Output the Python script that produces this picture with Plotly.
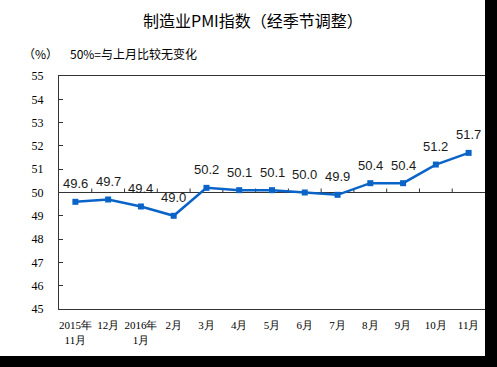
import plotly.graph_objects as go

categories = ["2015年<br>11月", "12月", "2016年<br>1月", "2月", "3月", "4月", "5月",
              "6月", "7月", "8月", "9月", "10月", "11月"]
pmi_values = [49.6, 49.7, 49.4, 49.0, 50.2, 50.1, 50.1, 50.0, 49.9, 50.4, 50.4, 51.2, 51.7]
y_ticks = [45, 46, 47, 48, 49, 50, 51, 52, 53, 54, 55]
baseline = 50

W, H = 497, 367
L, R, T, B = 59, 12, 76, 58
blue = "#0a64c8"
axis_col = "#333333"
idx = list(range(len(categories)))

plot_w = W - L - R
plot_h = H - T - B


def px_x(x):
    return (x - L) / plot_w


def px_y(y):
    return (H - B - y) / plot_h


fig = go.Figure()
fig.add_trace(go.Scatter(
    x=idx, y=pmi_values, mode="lines+markers",
    line=dict(color=blue, width=2.5),
    marker=dict(symbol="square", size=6, color=blue),
    hoverinfo="skip", showlegend=False,
))

annotations = []
for i, v in zip(idx, pmi_values):
    annotations.append(dict(x=i, y=v, xref="x", yref="y", text=f"{v:.1f}",
                            showarrow=False, yshift=18,
                            font=dict(family="Liberation Sans", size=13, color="#1a1a1a")))

annotations.append(dict(x=px_x(253), y=px_y(20), xref="paper", yref="paper",
                        text="制造业PMI指数（经季节调整）", showarrow=False,
                        xanchor="center", yanchor="middle",
                        font=dict(family="Noto Sans CJK SC", size=16, color="#000000")))
annotations.append(dict(x=px_x(40), y=px_y(53), xref="paper", yref="paper", text="（%）",
                        showarrow=False, xanchor="center", yanchor="middle",
                        font=dict(family="Noto Sans CJK SC", size=12, color="#000000")))
annotations.append(dict(x=px_x(68), y=px_y(53), xref="paper", yref="paper",
                        text="50%=与上月比较无变化",
                        showarrow=False, xanchor="left", yanchor="middle",
                        font=dict(family="Noto Sans CJK SC", size=12, color="#000000")))

shapes = [
    # reference line at 50
    dict(type="line", xref="paper", yref="y", x0=0, x1=1, y0=baseline, y1=baseline,
         line=dict(color=axis_col, width=1.2), layer="below"),
]
# category-boundary ticks on the 50 line
for i in idx[:-1]:
    shapes.append(dict(type="line", xref="x", yref="y", x0=i + 0.5, x1=i + 0.5,
                       ysizemode="pixel", yanchor=baseline, y0=0, y1=4,
                       line=dict(color=axis_col, width=1), layer="below"))
# dark border bands of the original image
shapes.append(dict(type="rect", xref="paper", yref="paper", x0=px_x(485), x1=px_x(W + 5),
                   y0=px_y(H + 5), y1=px_y(-5), fillcolor="#000000", line=dict(width=0),
                   layer="above"))
shapes.append(dict(type="rect", xref="paper", yref="paper", x0=px_x(-5), x1=px_x(W + 5),
                   y0=px_y(H + 5), y1=px_y(356), fillcolor="#000000", line=dict(width=0),
                   layer="above"))

fig.update_layout(
    width=W, height=H,
    margin=dict(l=L, r=R, t=T, b=B),
    paper_bgcolor="#ffffff", plot_bgcolor="#ffffff",
    annotations=annotations, shapes=shapes,
    xaxis=dict(range=[-0.5, len(categories) - 0.5], tickmode="array", tickvals=idx,
               ticktext=categories, showline=True, linecolor=axis_col, linewidth=1.2,
               mirror=True, showgrid=False, zeroline=False, ticks="",
               ticklabelstandoff=6,
               tickfont=dict(family="Liberation Serif", size=11, color="#000000")),
    yaxis=dict(range=[45, 55], tickmode="array", tickvals=y_ticks, showline=True,
               linecolor=axis_col, linewidth=1.2, mirror=True, showgrid=False,
               zeroline=False, ticks="inside", ticklen=4, tickcolor=axis_col,
               ticklabelstandoff=12,
               tickfont=dict(family="Liberation Serif", size=12, color="#000000")),
)

fig.write_html("out.html", config={"displayModeBar": False},
               post_script="document.body.style.margin='0';document.body.style.overflow='hidden';")
